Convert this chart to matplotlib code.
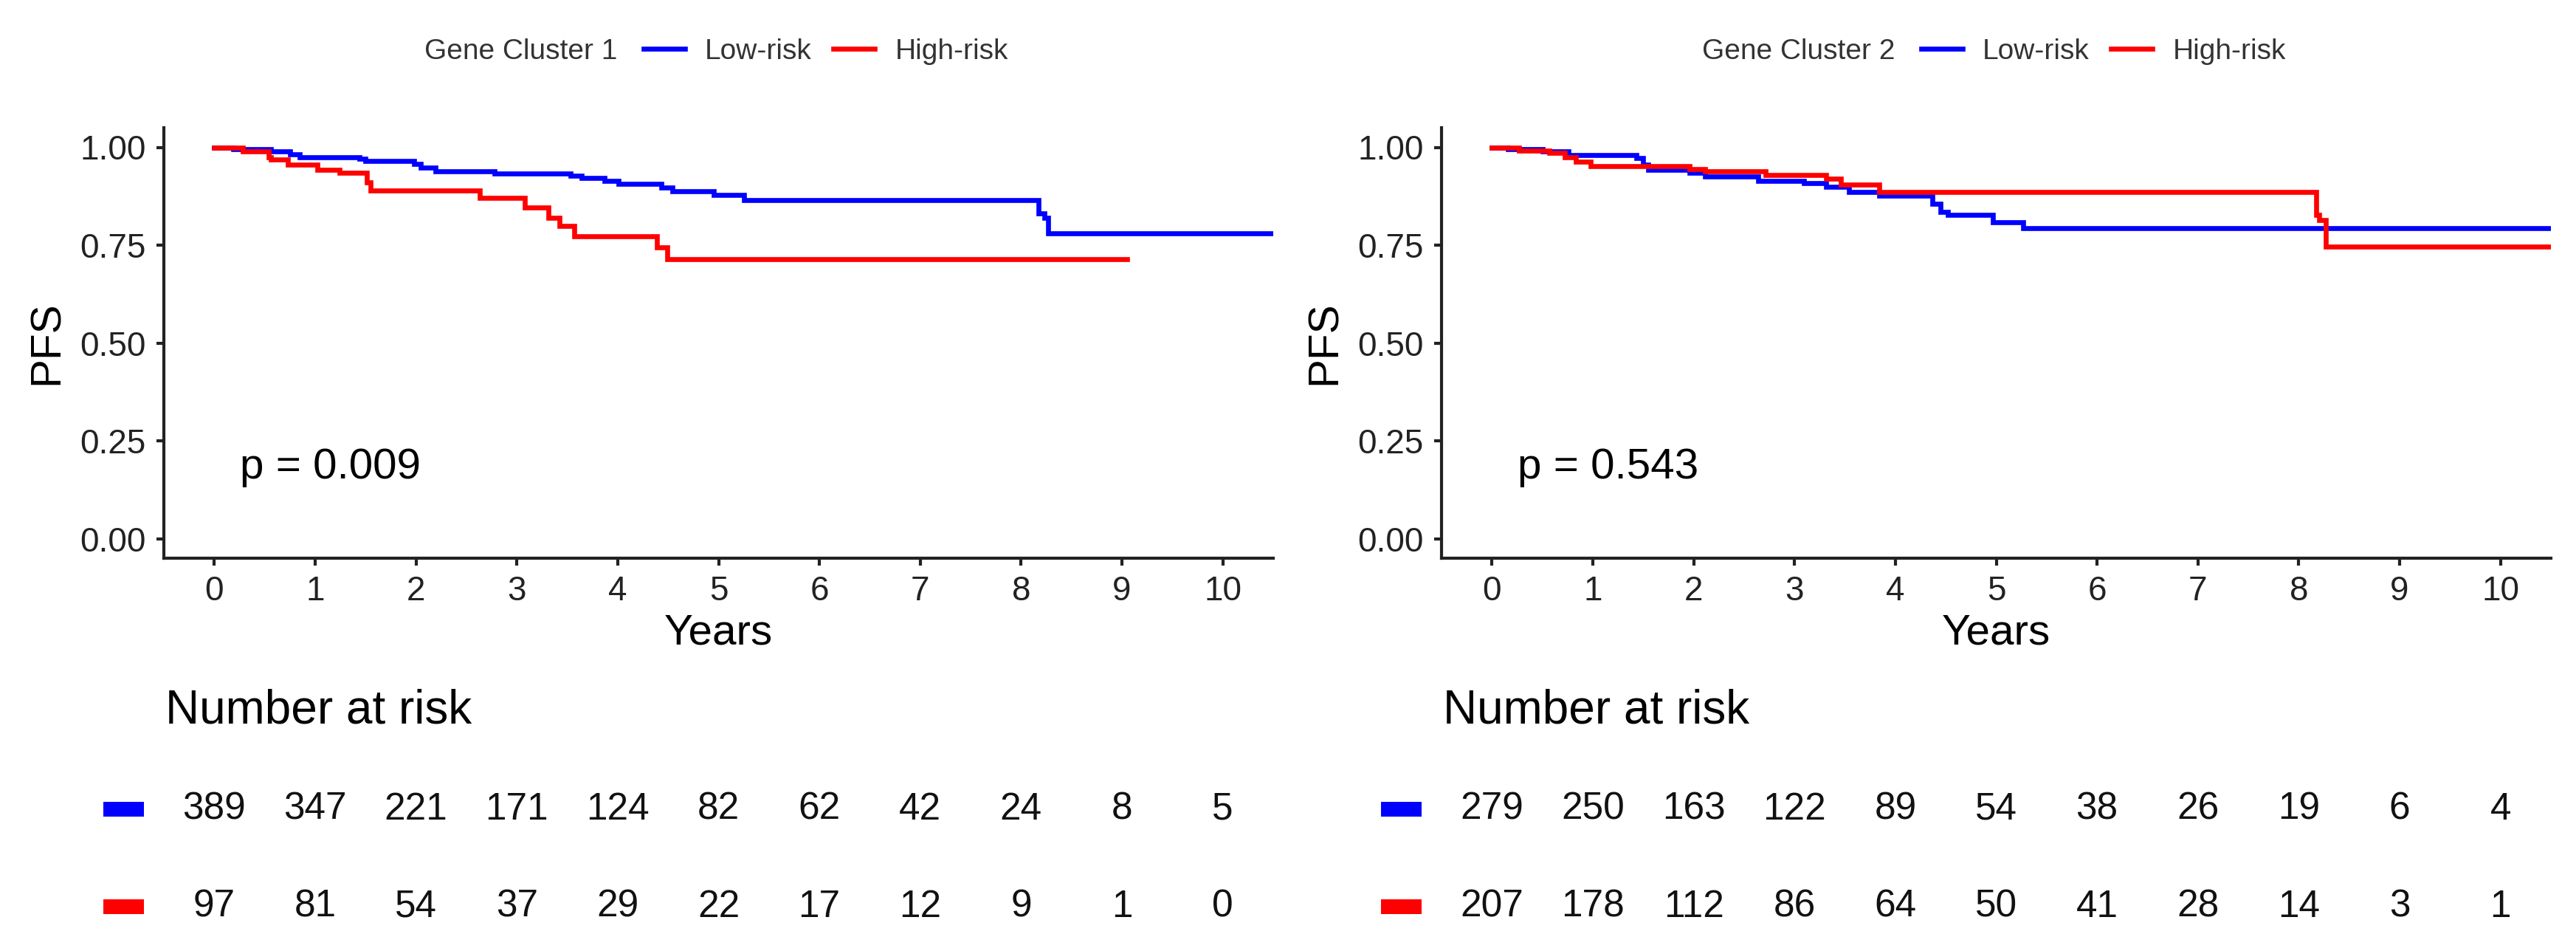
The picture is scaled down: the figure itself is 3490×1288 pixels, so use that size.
import matplotlib
matplotlib.use('Agg')
import matplotlib.pyplot as plt
import numpy as np

plt.rcParams['font.family'] = ['Liberation Sans', 'DejaVu Sans']

# ==================== DATA ====================
years = list(range(0, 11))

# Gene Cluster 1 KM curves (time in years, PFS)
c1_low_t = [0, 0.19, 0.56, 0.75, 0.85, 1.44, 1.50, 1.98, 2.05, 2.19, 2.78, 3.53, 3.64,
            3.87, 4.01, 4.43, 4.54, 4.95, 5.25, 8.17, 8.23, 8.27, 10.6]
c1_low_s = [1.0, 0.995, 0.989, 0.983, 0.975, 0.970, 0.965, 0.957, 0.948, 0.938, 0.933, 0.927, 0.921,
            0.914, 0.907, 0.898, 0.887, 0.878, 0.866, 0.831, 0.819, 0.780, 0.780]
c1_high_t = [0, 0.28, 0.54, 0.56, 0.73, 1.02, 1.24, 1.51, 1.55, 2.63, 3.08, 3.31, 3.42,
             3.57, 4.39, 4.49, 9.05]
c1_high_s = [1.0, 0.989, 0.975, 0.968, 0.955, 0.943, 0.934, 0.911, 0.889, 0.870, 0.847, 0.819, 0.800,
             0.772, 0.745, 0.714, 0.714]

# Gene Cluster 2 KM curves
c2_low_t = [0, 0.16, 0.50, 0.76, 1.43, 1.50, 1.55, 1.96, 2.11, 2.64, 3.09, 3.31, 3.54,
            3.84, 4.37, 4.45, 4.52, 4.97, 5.27, 10.6]
c2_low_s = [1.0, 0.996, 0.989, 0.981, 0.972, 0.955, 0.942, 0.934, 0.925, 0.915, 0.908, 0.900, 0.886,
            0.876, 0.855, 0.835, 0.827, 0.808, 0.793, 0.793]
c2_high_t = [0, 0.27, 0.57, 0.72, 0.83, 0.98, 1.96, 2.11, 2.71, 3.31, 3.46, 3.84, 8.17,
             8.20, 8.27, 10.6]
c2_high_s = [1.0, 0.991, 0.985, 0.975, 0.964, 0.952, 0.944, 0.938, 0.929, 0.919, 0.905, 0.886, 0.827,
             0.815, 0.746, 0.746]

# Number at risk
c1_low_risk = [389, 347, 221, 171, 124, 82, 62, 42, 24, 8, 5]
c1_high_risk = [97, 81, 54, 37, 29, 22, 17, 12, 9, 1, 0]
c2_low_risk = [279, 250, 163, 122, 89, 54, 38, 26, 19, 6, 4]
c2_high_risk = [207, 178, 112, 86, 64, 50, 41, 28, 14, 3, 1]

titles = ['Gene Cluster 1', 'Gene Cluster 2']
pvals = ['p = 0.009', 'p = 0.543']
group_labels = ['Low-risk', 'High-risk']
colors = ['#0000FF', '#FF0000']

# ==================== LAYOUT ====================
W, H = 3490, 1288
fig = plt.figure(figsize=(W / 200, H / 200), dpi=200)
fig.patch.set_facecolor('white')

panels = [
    (c1_low_t, c1_low_s, c1_high_t, c1_high_s, c1_low_risk, c1_high_risk),
    (c2_low_t, c2_low_s, c2_high_t, c2_high_s, c2_low_risk, c2_high_risk),
]
ax_left_px = [222, 1953]
ax_w_px = 1503
ax_top_px, ax_bot_px = 173, 756

for i, (lt, ls, ht, hs, lr, hr) in enumerate(panels):
    x0 = ax_left_px[i]
    ax = fig.add_axes([x0 / W, 1 - ax_bot_px / H, ax_w_px / W, (ax_bot_px - ax_top_px) / H])
    l1, = ax.step(lt, ls, where='post', color=colors[0], lw=2.4, solid_joinstyle='miter')
    l2, = ax.step(ht, hs, where='post', color=colors[1], lw=2.4, solid_joinstyle='miter')
    ax.set_xlim(-0.5, 10.5)
    ax.set_ylim(-0.05, 1.05)
    ax.set_xticks(years)
    ax.set_yticks([0, 0.25, 0.5, 0.75, 1.0])
    ax.set_yticklabels(['0.00', '0.25', '0.50', '0.75', '1.00'])
    for s in ['top', 'right']:
        ax.spines[s].set_visible(False)
    for s in ['left', 'bottom']:
        ax.spines[s].set_linewidth(1.5)
        ax.spines[s].set_color('#222222')
    ax.tick_params(axis='both', length=3.6, width=1.5, color='#222222',
                   labelsize=16.5, labelcolor='#222222')
    ax.tick_params(axis='x', pad=4.5)
    ax.tick_params(axis='y', pad=5.2)
    ax.set_xlabel('Years', fontsize=21)
    ax.xaxis.set_label_coords(0.5, -0.128)
    ax.xaxis.label.set_va('top')
    ax.set_ylabel('PFS', fontsize=21)
    ax.yaxis.set_label_coords(-0.087, 0.5)
    ax.text(0.256, 0.153, pvals[i], fontsize=21, ha='left', va='baseline')

    # legend at top
    fig.text((x0 + 353) / W, 1 - 70 / H, titles[i], fontsize=14, ha='left', va='center',
             color='#333333')
    ax.legend([l1, l2], group_labels, ncol=2, loc='center left',
              bbox_to_anchor=((x0 + 650) / W, 1 - 70 / H), bbox_transform=fig.transFigure,
              frameon=False, borderpad=0, borderaxespad=0, handlelength=1.44,
              handletextpad=0.7, columnspacing=0.75, fontsize=14, labelcolor='#333333')

    # risk table
    tb = fig.add_axes([x0 / W, 0, ax_w_px / W, 388 / H])
    tb.set_xlim(-0.5, 10.5)
    tb.set_ylim(1.4545, -1.485)
    tb.axis('off')
    tb.text(-0.485, -0.879, 'Number at risk', fontsize=23, ha='left', va='baseline')
    for row, (vals, col) in enumerate([(lr, colors[0]), (hr, colors[1])]):
        tb.plot([-1.10, -0.70], [row, row], color=col, lw=7.2, solid_capstyle='butt',
                clip_on=False)
        for x, v in zip(years, vals):
            tb.text(x, row, str(v), fontsize=18.5, ha='center', va='center', color='#111111')

plt.savefig('out.png', dpi=200, facecolor='white')
plt.close()
